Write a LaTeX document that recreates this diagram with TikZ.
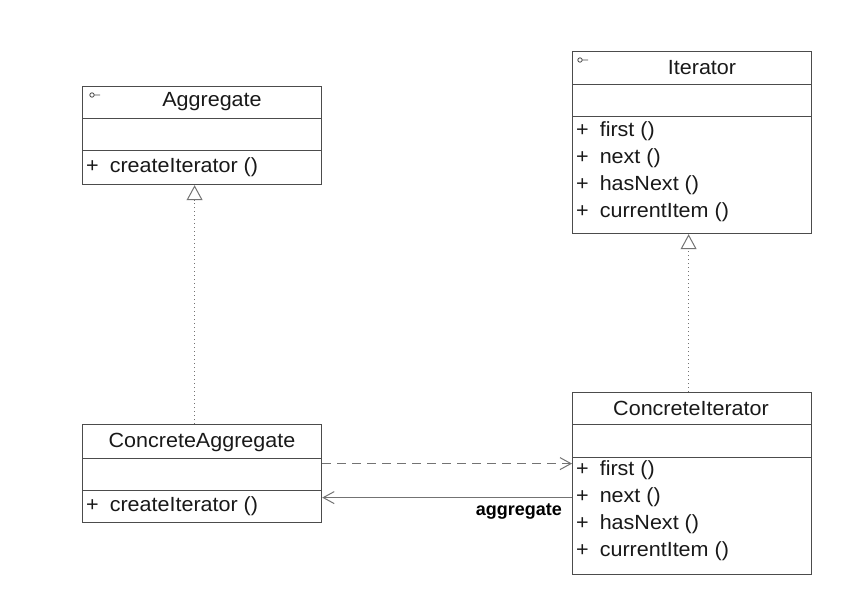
\documentclass[tikz,border=0pt]{standalone}
\usepackage{fontspec}
\setmainfont{Liberation Sans}
\newfontfamily\umlfont[FakeStretch=1.05]{Liberation Sans}
\usetikzlibrary{arrows.meta}
\tikzset{
  classbox/.style={draw=black!70, line width=1.2pt, rectangle, minimum width=239pt, anchor=north west, inner sep=0pt, fill=white},
  divline/.style={draw=black!70, line width=1pt},
  title/.style={font=\umlfont\fontsize{20.5}{24}\selectfont, inner sep=0pt, text=black!90},
  member/.style={font=\umlfont\fontsize{20.5}{24}\selectfont, inner sep=0pt, anchor=west, text=black!90},
  realize/.style={draw=black!55, line width=1pt, dash pattern=on 1.5pt off 2.5pt, -{Triangle[open,length=15pt,width=16pt,line width=1pt]}},
  depend/.style={draw=black!55, line width=1pt, dash pattern=on 9pt off 6pt, -{Straight Barb[length=11pt,width=12pt,line width=1pt]}},
  assoc/.style={draw=black!55, line width=1pt, -{Straight Barb[length=11pt,width=12pt,line width=1pt]}},
  iface/.style={draw=black!70, line width=0.8pt},
  lbl/.style={font=\bfseries\fontsize{18}{22}\selectfont, inner sep=0pt, text=black}
}
\begin{document}
\begin{tikzpicture}[x=1pt,y=-1pt]
\useasboundingbox (0,0) rectangle (858,608);
% Aggregate
\node[classbox, minimum height=98pt] (agg) at (82,86) {};
\draw[divline] (82,118) -- (321,118);
\draw[divline] (82,150) -- (321,150);
\node[title] (aggt) at (212,102) {Aggregate};
\draw[iface] (92,95) circle (2.2pt) (94.2,95) -- (100,95);
\node[member] (aggm1) at (86,167) {+\hspace{11pt}createIterator ()};
% Iterator
\node[classbox, minimum height=182pt] (it) at (572,51) {};
\draw[divline] (572,84) -- (811,84);
\draw[divline] (572,116) -- (811,116);
\node[title] (itt) at (702,68) {Iterator};
\draw[iface] (580,60) circle (2.2pt) (582.2,60) -- (588,60);
\node[member] (itm1) at (576,131) {+\hspace{11pt}first ()};
\node[member] (itm2) at (576,158) {+\hspace{11pt}next ()};
\node[member] (itm3) at (576,185) {+\hspace{11pt}hasNext ()};
\node[member] (itm4) at (576,212) {+\hspace{11pt}currentItem ()};
% ConcreteAggregate
\node[classbox, minimum height=98pt] (ca) at (82,424) {};
\draw[divline] (82,458) -- (321,458);
\draw[divline] (82,490) -- (321,490);
\node[title] (cat) at (202,442) {ConcreteAggregate};
\node[member] (cam1) at (86,506) {+\hspace{11pt}createIterator ()};
% ConcreteIterator
\node[classbox, minimum height=182pt] (ci) at (572,392) {};
\draw[divline] (572,424) -- (811,424);
\draw[divline] (572,457) -- (811,457);
\node[title] (cit) at (691,408) {ConcreteIterator};
\node[member] (cim1) at (576,470) {+\hspace{11pt}first ()};
\node[member] (cim2) at (576,497) {+\hspace{11pt}next ()};
\node[member] (cim3) at (576,524) {+\hspace{11pt}hasNext ()};
\node[member] (cim4) at (576,551) {+\hspace{11pt}currentItem ()};
% connectors
\draw[realize] ([xshift=-7.5pt]ca.north) -- ([xshift=-7.5pt]agg.south);
\draw[realize] ([xshift=-3.5pt]ci.north) -- ([xshift=-3.5pt]it.south);
\draw[depend] ([yshift=10pt]ca.east) -- ([yshift=10pt]ca.east -| ci.west);
\draw[assoc] ([yshift=-24pt]ca.east -| ci.west) -- ([yshift=-24pt]ca.east);
\node[lbl, anchor=east] (aggl) at (562,512) {aggregate};
\end{tikzpicture}
\end{document}
